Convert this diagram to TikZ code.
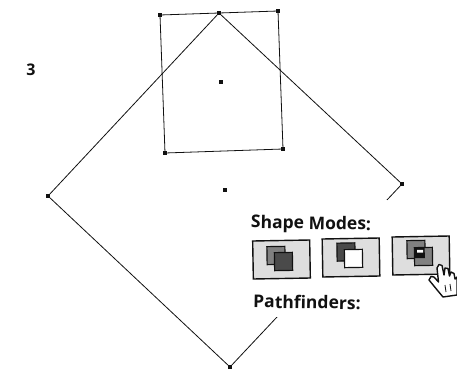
\documentclass[tikz,border=0pt]{standalone}
\usepackage{fontspec}
\setmainfont{Open Sans}
\usepackage{tikz}
\usetikzlibrary{arrows.meta, positioning, calc}
\definecolor{ptink}{HTML}{111111}
\definecolor{pbtn}{HTML}{DEDEDE}
\definecolor{pdark}{HTML}{4A4A4A}
\definecolor{pmid}{HTML}{808080}

\begin{document}
\begin{tikzpicture}[x=1pt, y=-1pt, font=\bfseries,
      pt/.style={fill=ptink, inner sep=0pt, minimum size=3.6pt},
      edge/.style={draw=ptink, line width=0.8pt},
      btn/.style={draw=ptink, line width=1.4pt, fill=pbtn, rotate=1, minimum width=57pt, minimum height=38pt, inner sep=0pt},
      sq/.style={draw=ptink, line width=1.2pt, rotate=1, minimum size=18pt, inner sep=0pt},
      lbl/.style={text=ptink, rotate=-1, inner sep=0pt, font=\fontsize{17.5pt}{19pt}\bfseries}]
      \useasboundingbox (0,0) rectangle (457,369);
      \node[inner sep=0pt, text=ptink, font=\fontsize{16pt}{18pt}\bfseries] (num) at (31,70) {3};
      % rectangle
      \node[pt] (rtl) at (160,15) {}; \node[pt] (rtm) at (219,13) {}; \node[pt] (rtr) at (278,11) {};
      \node[pt] (rbr) at (283,149) {}; \node[pt] (rbl) at (165,153) {}; \node[pt] (rc) at (221,82) {};
      \draw[edge] (rtl.center)--(rtm.center)--(rtr.center)--(rbr.center)--(rbl.center)--cycle;
      % diamond
      \node[pt] (dr) at (402,184) {}; \node[pt] (db) at (230,367) {}; \node[pt] (dl) at (48,196) {}; \node[pt] (dc) at (225,190) {};
      \draw[edge] (rtm.center)--(dr.center)--(db.center)--(dl.center)--cycle;
      % panel
      \fill[white] (240,205)--(387,200)--(457,240)--(457,300)--(277,317)--(240,312)--cycle;
      \node[lbl] (modes) at (311,224.5) {Shape Modes:};
      \node[lbl] (finders) at (307,302) {Pathfinders:};
      \node[btn] (btna) at (281.5,259.5) {};
      \node[btn] (btnb) at (351,257.5) {};
      \node[btn] (btnc) at (421,255.5) {};
      \node[sq, fill=pmid] (aback) at (276,255.5) {};
      \node[sq, fill=pdark] (afront) at (283.5,261.5) {};
      \node[sq, fill=pdark] (bback) at (346,252) {};
      \node[sq, fill=white] (bfront) at (353.5,258.5) {};
      \node[sq, fill=pmid] (cback) at (416,249.5) {};
      \node[sq, fill=pmid] (cfront) at (423.5,256.5) {};
      \fill[ptink] (414.5,248)--(424.5,247.7)--(425,258)--(415,258.2)--cycle;
      \fill[white] (417,250)--(423,249.8)--(423,252.5)--(417,252.7)--cycle;
      % hand cursor
      \fill[white, draw=ptink, line width=1.4pt, line join=round] (429,280)--(431,276.5)--(434,277)--(438.5,282)--(437,268)--(439,264.5)--(442,265.5)--(444,275)--(445,268)--(448,268.5)--(449.5,276)--(451,272)--(454,273.5)--(455,279)--(457,277)--(457,295)--(443,297)--(438,291)--cycle;
      \draw[ptink, line width=0.8pt] (445,285)--(446,292) (450,284)--(451,291);
    \end{tikzpicture}
\end{document}
